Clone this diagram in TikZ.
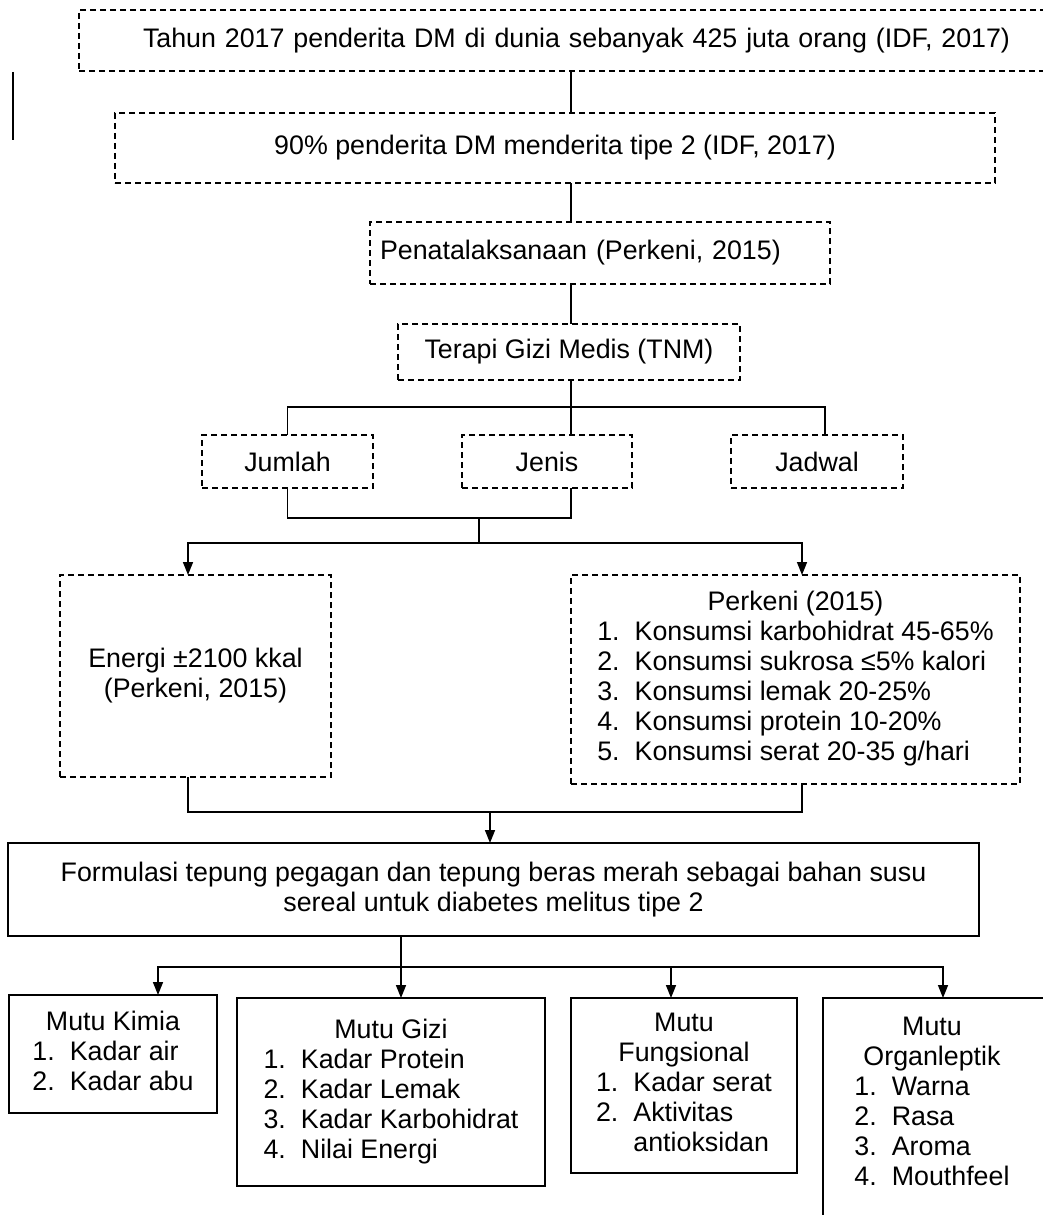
\documentclass[tikz,border=0pt]{standalone}
\usepackage{fontspec}
\setmainfont{Liberation Sans}
\usetikzlibrary{arrows.meta}
\begin{document}
\begin{tikzpicture}[x=1pt,y=-1pt,
  every node/.style={font=\fontsize{26.8}{30}\selectfont, inner sep=0pt, outer sep=0pt},
  dbox/.style={draw, rectangle, line width=1.4pt, dash pattern=on 6pt off 4pt, align=center},
  sbox/.style={draw, rectangle, line width=1.8pt, align=center},
  ln/.style={line width=1.5pt},
  arr/.style={ln, -{Triangle[length=13pt,width=10pt]}}
]
\useasboundingbox (0,0) rectangle (1043,1215);
\clip (0,0) rectangle (1043,1215);

\coordinate (spine) at (571,0);
\coordinate (s1) at (13,72);
\coordinate (s2) at (13,140);

% top chain
\node[dbox, text width=1000pt, align=left, inner xsep=64pt, minimum height=61pt, anchor=west] (b1) at (79,40.5)
  {Tahun 2017 penderita DM di dunia sebanyak 425 juta orang (IDF, 2017)};
\node[dbox, minimum width=880pt, minimum height=70pt] (b2) at (555,148)
  {90\% penderita DM menderita tipe 2 (IDF, 2017)};
\node[dbox, text width=440pt, align=left, inner xsep=10pt, minimum height=62pt] (b3) at (600,253)
  {Penatalaksanaan (Perkeni, 2015)};
\node[dbox, minimum width=342pt, minimum height=56pt] (b4) at (569,352)
  {Terapi Gizi Medis (TNM)};

\node[dbox, minimum width=171pt, minimum height=53pt] (jumlah) at (287.5,461.5) {Jumlah};
\node[dbox, minimum width=170pt, minimum height=53pt] (jenis) at (547,461.5) {Jenis};
\node[dbox, minimum width=172pt, minimum height=53pt] (jadwal) at (817,461.5) {Jadwal};

\node[dbox, minimum width=271pt, minimum height=202pt] (energi) at (195.5,676)
  {Energi ±2100 kkal\\(Perkeni, 2015)};
\node[dbox, minimum width=449pt, minimum height=209pt] (perkeni) at (795.5,679.5)
  {\begin{tabular}{@{}l@{\hspace{15pt}}l@{}}
   \multicolumn{2}{c}{Perkeni (2015)}\\
   1. & Konsumsi karbohidrat 45-65\%\\
   2. & Konsumsi sukrosa ≤5\% kalori\\
   3. & Konsumsi lemak 20-25\%\\
   4. & Konsumsi protein 10-20\%\\
   5. & Konsumsi serat 20-35 g/hari
   \end{tabular}};

\node[sbox, minimum width=971pt, minimum height=93pt] (form) at (493.5,889.5)
  {Formulasi tepung pegagan dan tepung beras merah sebagai bahan susu\\sereal untuk diabetes melitus tipe 2};

\node[sbox, minimum width=208pt, minimum height=118pt] (kimia) at (113,1054)
  {\begin{tabular}{@{}l@{\hspace{15pt}}l@{}}
   \multicolumn{2}{c}{Mutu Kimia}\\
   1. & Kadar air\\
   2. & Kadar abu
   \end{tabular}};
\node[sbox, minimum width=308pt, minimum height=188pt] (gizi) at (391,1092)
  {\begin{tabular}{@{}l@{\hspace{15pt}}l@{}}
   \multicolumn{2}{c}{Mutu Gizi}\\
   1. & Kadar Protein\\
   2. & Kadar Lemak\\
   3. & Kadar Karbohidrat\\
   4. & Nilai Energi
   \end{tabular}};
\node[sbox, minimum width=226pt, minimum height=175pt] (fung) at (684,1085.5)
  {\begin{tabular}{@{}l@{\hspace{15pt}}l@{}}
   \multicolumn{2}{c}{Mutu}\\
   \multicolumn{2}{c}{Fungsional}\\
   1. & Kadar serat\\
   2. & Aktivitas\\
      & antioksidan
   \end{tabular}};
\node[sbox, minimum width=240pt, minimum height=242pt] (org) at (943,1119) {};
\node (orgt) at (932,1104)
  {\begin{tabular}{@{}l@{\hspace{15pt}}l@{}}
   \multicolumn{2}{c}{Mutu}\\
   \multicolumn{2}{c}{Organleptik}\\
   1. & Warna\\
   2. & Rasa\\
   3. & Aroma\\
   4. & Mouthfeel
   \end{tabular}};

% connectors
\draw[ln] (s1) -- (s2);
\draw[ln] (spine |- b1.south) -- (spine |- b2.north);
\draw[ln] (spine |- b2.south) -- (spine |- b3.north);
\draw[ln] (spine |- b3.south) -- (spine |- b4.north);
\draw[ln] (spine |- b4.south) -- (spine |- jenis.north);
\draw[ln] (jumlah.north) -- ++(0,-28) -| ([xshift=8pt]jadwal.north);
\draw[ln] (jumlah.south) -- ++(0,30) -| (spine |- jenis.south);

\coordinate (j1) at (479,518);
\coordinate (j2) at (479,543);
\draw[ln] (j1) -- (j2);
\draw[arr] (j2) -| ([xshift=-7.5pt]energi.north);
\draw[arr] (j2) -| ([xshift=6.5pt]perkeni.north);

\coordinate (j3) at (490,812);
\draw[ln] ([xshift=-7.5pt]energi.south) |- (j3);
\draw[ln] ([xshift=6.5pt]perkeni.south) |- (j3);
\draw[arr] (j3) -- (j3 |- form.north);

\coordinate (k) at (401,0);
\coordinate (j4) at (401,967);
\draw[arr] (k |- form.south) -- (k |- gizi.north);
\draw[arr] (j4) -| ([xshift=45pt]kimia.north);
\draw[arr] (j4) -| ([xshift=-13pt]fung.north);
\draw[arr] (j4) -| (org.north);
\end{tikzpicture}
\end{document}
